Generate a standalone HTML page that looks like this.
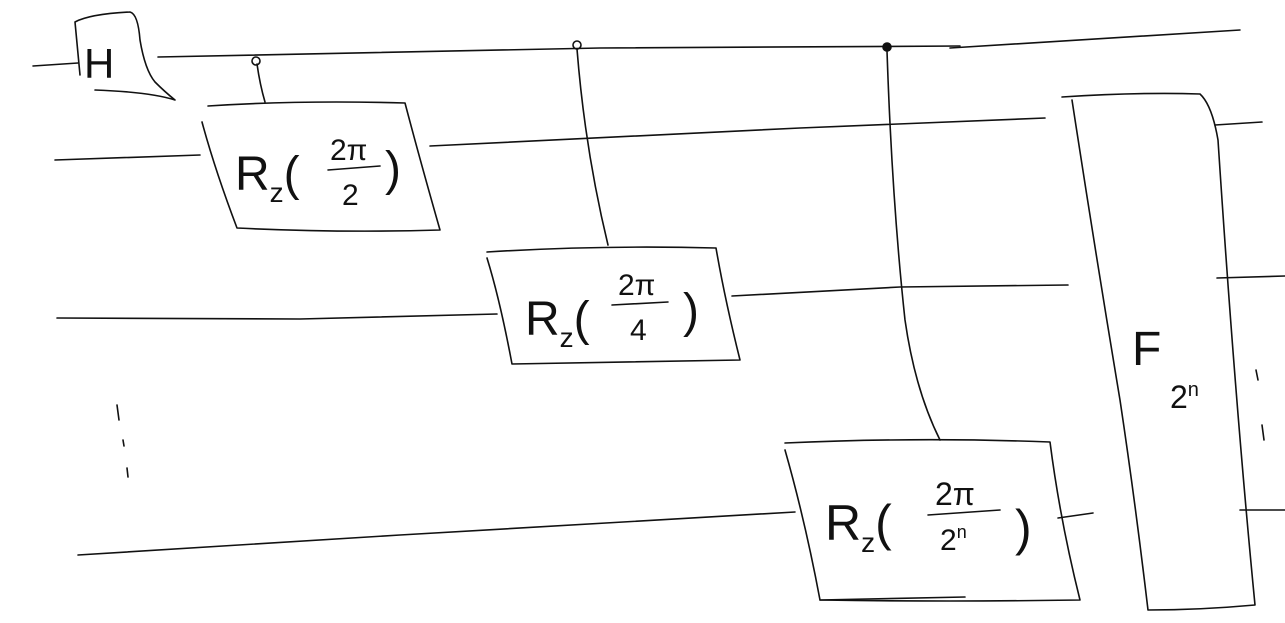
<!DOCTYPE html>
<html>
<head>
<meta charset="utf-8">
<style>
html,body{margin:0;padding:0;background:#fff;}
svg{display:block;}
path,line{stroke:#111;stroke-width:1.6;fill:none;stroke-linecap:round;stroke-linejoin:round;}
text{font-family:"Liberation Sans",sans-serif;fill:#111;}
</style>
</head>
<body>
<svg width="1285" height="623" viewBox="0 0 1285 623">
  <g>
    <path d="M33,66 L78,63"/>
    <path d="M158,57 L600,48 L960,46"/>
    <path d="M950,48 L1240,30"/>
  </g>
  <g>
    <path d="M55,160 L200,155"/>
    <path d="M430,146 L800,128 L1045,118"/>
    <path d="M1215,125 L1262,122"/>
  </g>
  <g>
    <path d="M57,318 L300,319 L497,314"/>
    <path d="M732,296 L900,287 L1068,285"/>
    <path d="M1217,278 L1285,276"/>
  </g>
  <g>
    <path d="M78,555 L400,535 L795,512"/>
    <path d="M1058,518 L1093,513"/>
    <path d="M1240,510 L1285,510"/>
  </g>

  <g>
    <path d="M80,75 L75,22 Q90,14 130,12 Q138,14 140,40 Q145,70 155,82 Q165,92 175,100 Q150,92 95,90"/>
    <text x="84" y="78" font-size="42">H</text>
  </g>

  <g>
    <circle cx="256" cy="61" r="4" fill="none" stroke="#111" stroke-width="1.6"/>
    <path d="M257,64 Q260,85 265,102"/>
  </g>
  <g>
    <circle cx="577" cy="45" r="4" fill="none" stroke="#111" stroke-width="1.6"/>
    <path d="M577,49 Q585,150 608,245"/>
  </g>
  <g>
    <circle cx="887" cy="47" r="4" fill="#111" stroke="#111" stroke-width="1.6"/>
    <path d="M887,51 Q892,200 905,320 Q915,390 940,440"/>
  </g>

  <g>
    <path d="M208,106 Q300,100 405,103 Q420,160 440,230 Q340,233 237,228 Q215,170 202,122"/>
    <text x="235" y="190" font-size="48">R<tspan font-size="28" dy="12">z</tspan><tspan dy="-12">(</tspan></text>
    <text x="330" y="160" font-size="30">2π</text>
    <path d="M328,170 L380,166"/>
    <text x="342" y="205" font-size="30">2</text>
    <text x="385" y="185" font-size="48">)</text>
  </g>
  <g>
    <path d="M487,252 Q600,245 716,248 Q725,300 740,360 Q620,362 512,364 Q500,300 487,258"/>
    <text x="525" y="335" font-size="48">R<tspan font-size="28" dy="12">z</tspan><tspan dy="-12">(</tspan></text>
    <text x="618" y="295" font-size="30">2π</text>
    <path d="M612,305 L668,302"/>
    <text x="630" y="340" font-size="30">4</text>
    <text x="683" y="327" font-size="48">)</text>
  </g>
  <g>
    <path d="M785,443 Q920,437 1050,442 Q1060,520 1080,600 Q950,602 820,600 Q805,520 785,450"/>
    <path d="M820,600 L965,597"/>
    <text x="825" y="540" font-size="50">R<tspan font-size="28" dy="12">z</tspan><tspan dy="-12">(</tspan></text>
    <text x="935" y="505" font-size="32">2π</text>
    <path d="M928,515 L1000,510"/>
    <text x="940" y="550" font-size="30">2<tspan font-size="18" dy="-12">n</tspan></text>
    <text x="1015" y="545" font-size="50">)</text>
  </g>

  <g>
    <path d="M117,405 L119,420"/>
    <path d="M123,440 L124,446"/>
    <path d="M127,468 L128,477"/>
  </g>

  <g>
    <path d="M1062,97 Q1140,92 1200,94 Q1212,105 1218,140 Q1235,400 1255,605 Q1200,610 1148,610 Q1135,500 1120,400 Q1095,250 1072,100"/>
    <text x="1132" y="365" font-size="48">F</text>
    <text x="1170" y="408" font-size="32">2<tspan font-size="20" dy="-12">n</tspan></text>
  </g>
  <g>
    <path d="M1256,370 L1258,380"/>
    <path d="M1262,425 L1264,440"/>
  </g>
</svg>
</body>
</html>
